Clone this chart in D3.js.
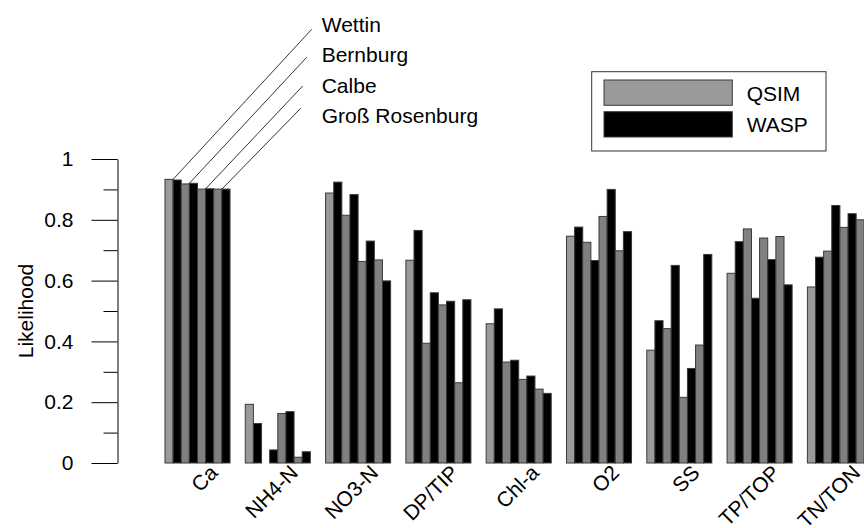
<!DOCTYPE html>
<html>
<head>
<meta charset="utf-8">
<script src="https://cdn.jsdelivr.net/npm/d3@7"></script>
<style>
  html, body { margin: 0; padding: 0; background: #fff; }
  svg { display: block; font-family: "Liberation Sans", Arial, Helvetica, sans-serif; }
</style>
</head>
<body>
<svg id="chart" width="864" height="528"></svg>
<script>
// Water-quality variables on the x axis
const categories = ["Ca", "NH4-N", "NO3-N", "DP/TIP", "Chl-a", "O2", "SS", "TP/TOP", "TN/TON"];
const stations = ["Wettin", "Bernburg", "Calbe", "Groß Rosenburg"];
const models = ["QSIM", "WASP"];

// Likelihood per variable, one array per station and model
const qsimWettin   = [0.933, 0.193, 0.888, 0.667, 0.458, 0.746, 0.371, 0.624, 0.579];
const waspWettin   = [0.931, 0.130, 0.924, 0.765, 0.507, 0.776, 0.468, 0.728, 0.677];
const qsimBernburg = [0.918, 0.000, 0.815, 0.394, 0.332, 0.726, 0.442, 0.770, 0.697];
const waspBernburg = [0.920, 0.043, 0.883, 0.560, 0.338, 0.666, 0.650, 0.542, 0.847];
const qsimCalbe    = [0.901, 0.163, 0.663, 0.520, 0.275, 0.811, 0.216, 0.740, 0.775];
const waspCalbe    = [0.902, 0.169, 0.730, 0.532, 0.286, 0.900, 0.311, 0.669, 0.820];
const qsimRosenburg = [0.901, 0.019, 0.668, 0.264, 0.243, 0.698, 0.388, 0.745, 0.800];
const waspRosenburg = [0.901, 0.037, 0.599, 0.537, 0.229, 0.761, 0.686, 0.586, 0.790];

const yTicks = [0, 0.2, 0.4, 0.6, 0.8, 1];
const yTickLabels = ["0", "0.2", "0.4", "0.6", "0.8", "1"];
const yMinorTicks = [0.1, 0.3, 0.5, 0.7, 0.9];

// Series in drawing order inside each group: station by station, QSIM then WASP
const seriesValues = [
  [qsimWettin, waspWettin],
  [qsimBernburg, waspBernburg],
  [qsimCalbe, waspCalbe],
  [qsimRosenburg, waspRosenburg]
];
const series = [];
stations.forEach((st, si) => {
  models.forEach((m, mi) => {
    series.push({ key: st + "|" + m, station: st, stationIndex: si, model: m, values: seriesValues[si][mi] });
  });
});

const rows = categories.map((c, ci) => ({
  category: c,
  bars: series.map(s => ({ key: s.key, model: s.model, stationIndex: s.stationIndex, value: s.values[ci] }))
}));

const svg = d3.select("#chart");
const font = 21;

const x = d3.scaleBand()
  .domain(categories)
  .range([157.35, 880.05])
  .paddingInner(0.19)
  .paddingOuter(0.095);

const xInner = d3.scaleBand()
  .domain(series.map(s => s.key))
  .range([0, x.bandwidth()]);

const y = d3.scaleLinear().domain([0, 1]).range([463, 159]);

const fillFor = d => d.model === "WASP" ? "#000000" : (d.stationIndex === 0 ? "#9a9a9a" : "#808080");

// Bars
const groups = svg.append("g").selectAll("g")
  .data(rows)
  .join("g")
  .attr("transform", d => `translate(${x(d.category)},0)`);

groups.selectAll("rect")
  .data(d => d.bars)
  .join("rect")
  .attr("x", d => xInner(d.key))
  .attr("y", d => y(d.value))
  .attr("width", xInner.bandwidth())
  .attr("height", d => y(0) - y(d.value))
  .attr("fill", fillFor)
  .attr("stroke", "#3a3a3a")
  .attr("stroke-width", 1);

// Y axis: labelled major ticks and shorter minor ticks
const axisX = 117.5;
svg.append("g")
  .attr("transform", `translate(${axisX},0)`)
  .call(d3.axisLeft(y).tickValues(yTicks).tickFormat((d, i) => yTickLabels[i])
    .tickSize(26).tickSizeOuter(0).tickPadding(18))
  .call(g => g.selectAll("text").attr("font-size", font).attr("font-family", null).attr("fill", "#000"))
  .call(g => g.selectAll("line,path").attr("stroke", "#000"));

svg.append("g")
  .attr("transform", `translate(${axisX},0)`)
  .call(d3.axisLeft(y).tickValues(yMinorTicks).tickFormat("").tickSize(14).tickSizeOuter(0))
  .call(g => g.select(".domain").remove())
  .call(g => g.selectAll("line").attr("stroke", "#000"));

svg.append("text")
  .attr("transform", `translate(33,${(y(0) + y(1)) / 2}) rotate(-90)`)
  .attr("text-anchor", "middle")
  .attr("font-size", font)
  .text("Likelihood");

// Category labels at 45 degrees, their baseline ending just right of each group centre
svg.append("g").selectAll("text")
  .data(categories)
  .join("text")
  .attr("transform", d => `translate(${x(d) + x.bandwidth() / 2 + 21.5},474) rotate(-45)`)
  .attr("text-anchor", "end")
  .attr("font-size", font)
  .text(d => d);

// Station labels with leader lines down to the first group
const first = rows[0];
const labelX = 321.7;
const labelBase = 31.7, labelStep = 30.45;
const leaderEnds = [[311.7, 29.3], [306.7, 57.3], [302.7, 86], [300.7, 108.3]];

stations.forEach((st, si) => {
  const pair = first.bars.filter(b => b.stationIndex === si);
  const cx = x(first.category) + xInner(pair[1].key);
  const top = y(d3.max(pair, b => b.value));
  svg.append("line")
    .attr("x1", cx).attr("y1", top)
    .attr("x2", leaderEnds[si][0]).attr("y2", leaderEnds[si][1])
    .attr("stroke", "#000").attr("stroke-width", 0.8);
  svg.append("text")
    .attr("x", labelX)
    .attr("y", labelBase + si * labelStep)
    .attr("font-size", font)
    .text(st);
});

// Legend
const legend = svg.append("g");
legend.append("rect")
  .attr("x", 591.7).attr("y", 71.7).attr("width", 234.3).attr("height", 79.3)
  .attr("fill", "#fff").attr("stroke", "#333").attr("stroke-width", 1);
const legendFill = ["#9a9a9a", "#000000"];
const legendTop = [80, 111.7];
models.forEach((m, i) => {
  legend.append("rect")
    .attr("x", 604).attr("y", legendTop[i]).attr("width", 128.3).attr("height", 25.3)
    .attr("fill", legendFill[i]).attr("stroke", "#3a3a3a").attr("stroke-width", 1);
  legend.append("text")
    .attr("x", 746.7).attr("y", legendTop[i] + 20.5)
    .attr("font-size", font)
    .text(m);
});
</script>
</body>
</html>
